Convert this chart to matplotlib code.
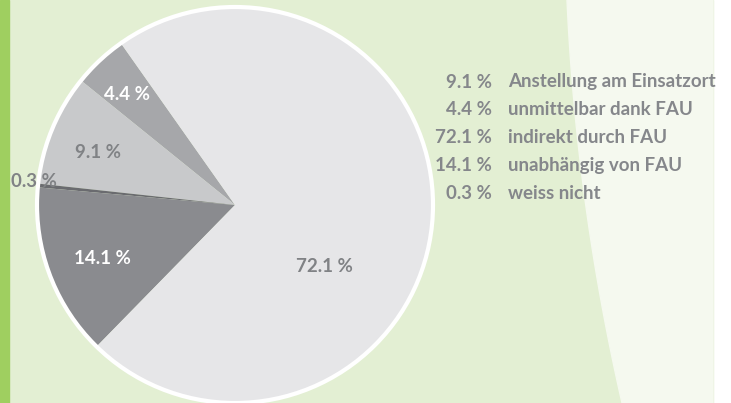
import matplotlib.pyplot as plt
import matplotlib.patches as mpatches
import numpy as np

# values in pie order (counter-clockwise from the top-left edge)
labels = ['unmittelbar dank FAU', 'Anstellung am Einsatzort', 'weiss nicht',
          'unabhängig von FAU', 'indirekt durch FAU']
values = [4.4, 9.1, 0.3, 14.1, 72.1]
colors = ['#a6a7aa', '#c8c9cb', '#6a6b6f', '#8a8b8f', '#e6e6e8']
txt_colors = ['white', '#808285', '#808285', 'white', '#808285']

# legend order as printed on the right
legend_vals = [9.1, 4.4, 72.1, 14.1, 0.3]
legend_labels = ['Anstellung am Einsatzort', 'unmittelbar dank FAU', 'indirekt durch FAU',
                 'unabhängig von FAU', 'weiss nicht']

W, H = 731, 403
fig = plt.figure(figsize=(W / 100, H / 100), dpi=100)
fig.patch.set_facecolor('white')
ax = fig.add_axes([0, 0, 1, 1])
ax.set_xlim(0, W)
ax.set_ylim(0, H)
ax.set_aspect('equal')
ax.axis('off')

# background: light green, left stripe, pale curved panel on the right
ax.add_patch(mpatches.Rectangle((0, 0), 713, H, color='#e3efd3', zorder=0))
ax.add_patch(mpatches.Rectangle((0, 0), 9, H, color='#9fcf60', zorder=0))
yy = np.linspace(H, 0, 60)
t = (H - yy) / H
xx = 567 + 18 * t + 37 * t ** 2
poly = np.column_stack([np.r_[xx, 713, 713], np.r_[yy, 0, H]])
ax.add_patch(mpatches.Polygon(poly, closed=True, color='#f5f9ef', zorder=0))

font = ['Lato', 'DejaVu Sans']

cx, cy, r = 235, H - 205, 198
wedges, _ = ax.pie(values, colors=colors, startangle=125.2, counterclock=True,
                   center=(cx, cy), radius=r, frame=True,
                   wedgeprops=dict(linewidth=0))
ax.add_patch(mpatches.Circle((cx, cy), r, fill=False, ec='white', lw=3, zorder=3))
ax.set_xlim(0, W)
ax.set_ylim(0, H)
ax.axis('off')

# label placement: angle shift and radial distance per wedge
shift = [1.4, 1.4, -0.9, 1.7, -30.0]
dist = [0.78, 0.74, 1.02, 0.72, 0.55]
for w, v, c, s, d in zip(wedges, values, txt_colors, shift, dist):
    a = np.deg2rad((w.theta1 + w.theta2) / 2 + s)
    ax.text(cx + d * r * np.cos(a), cy + d * r * np.sin(a), f'{v} %',
            ha='center', va='center', color=c, fontsize=13.5, family=font,
            fontweight='bold', zorder=4)

for i, (v, lab) in enumerate(zip(legend_vals, legend_labels)):
    y = H - (82 + i * 27.8)
    ax.text(492, y, f'{v} %', ha='right', va='center', color='#85878b',
            fontsize=13.5, family=font, fontweight='bold')
    ax.text(508, y, lab, ha='left', va='center', color='#85878b',
            fontsize=13.5, family=font, fontweight='bold')

fig.savefig('out.png', dpi=100, facecolor=fig.get_facecolor())
